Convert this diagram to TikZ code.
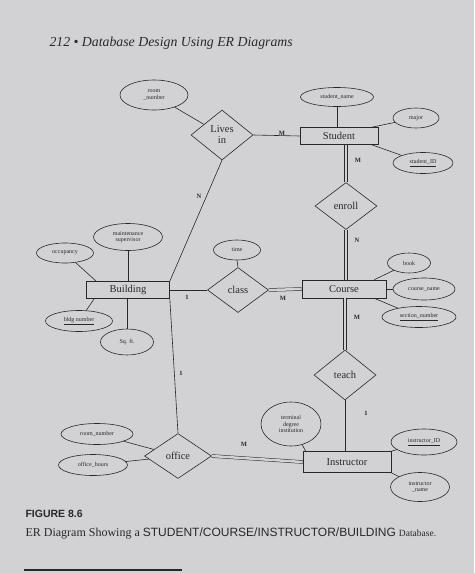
\documentclass[tikz,border=0pt]{standalone}
\usepackage{fontspec}
\setmainfont{Liberation Serif}
\setsansfont{Liberation Sans}
\usetikzlibrary{shapes.geometric, positioning}
\definecolor{pagebg}{RGB}{210,210,213}
\definecolor{ink}{RGB}{40,40,42}

\begin{document}
\begin{tikzpicture}[
        x=1pt, y=-1pt,
        every node/.style={font=\fontsize{10.5}{11}\selectfont, text=ink}, % texto de entidades y relaciones
        entity/.style={draw=ink, line width=0.6pt, rectangle, inner sep=1pt},
        attr/.style={draw=ink, line width=0.6pt, ellipse, inner sep=0pt, align=center, font=\fontsize{6}{6.5}\selectfont},
        rel/.style={draw=ink, line width=0.6pt, diamond, inner sep=0pt, align=center},
        card/.style={font=\bfseries\fontsize{6.5}{7}\selectfont},
        link/.style={draw=ink, line width=0.6pt},
        total/.style={draw=ink, line width=0.5pt, double=pagebg, double distance=2.5pt}
    ]
        % --- Fondo de la pagina ---
        \fill[pagebg] (0,0) rectangle (474,573);
        \useasboundingbox (0,0) rectangle (474,573);

        % --- Encabezado ---
        \node[anchor=west, font=\itshape\fontsize{13.8}{16}\selectfont] (header) at (46,43) {212 \textbullet\ Database Design Using ER Diagrams};

        % --- Entidades ---
        \node[entity, minimum width=78pt, minimum height=17pt] (Student) at (339,136) {Student};
        \node[entity, minimum width=83pt, minimum height=17pt] (Building) at (128,290) {Building};
        \node[entity, minimum width=84pt, minimum height=18pt] (Course) at (344,289) {Course};
        \node[entity, minimum width=88pt, minimum height=21pt] (Instructor) at (347,462) {Instructor};

        % --- Relaciones ---
        \node[rel, minimum width=62pt, minimum height=50pt] (LivesIn) at (222,135) {Lives\\in};
        \node[rel, minimum width=62pt, minimum height=47pt] (enroll) at (346,206) {enroll};
        \node[rel, minimum width=61pt, minimum height=45pt] (class) at (238,290) {class};
        \node[rel, minimum width=62pt, minimum height=50pt] (teach) at (345,375) {teach};
        \node[rel, minimum width=67pt, minimum height=45pt] (office) at (178,456) {office};

        % --- Atributos ---
        \node[attr, minimum width=68pt, minimum height=30pt] (roomA) at (154,95) {room\\\_number};
        \node[attr, minimum width=73pt, minimum height=19pt] (studentName) at (337,97) {student\_name};
        \node[attr, minimum width=46pt, minimum height=20pt] (major) at (416,118) {major};
        \node[attr, minimum width=60pt, minimum height=21pt] (studentID) at (423,163) {\underline{student\_ID}};
        \node[attr, minimum width=69pt, minimum height=27pt] (maint) at (128,237) {maintenance\\supervisor};
        \node[attr, minimum width=57pt, minimum height=20pt] (occupancy) at (65,253) {occupancy};
        \node[attr, minimum width=67pt, minimum height=21pt] (bldgNumber) at (79,321) {\underline{bldg number}};
        \node[attr, minimum width=53pt, minimum height=26pt] (sqft) at (127,342) {Sq. ft.};
        \node[attr, minimum width=47pt, minimum height=20pt] (time) at (237,250) {time};
        \node[attr, minimum width=43pt, minimum height=20pt] (book) at (409,263) {book};
        \node[attr, minimum width=62pt, minimum height=22pt] (courseName) at (424,289) {course\_name};
        \node[attr, minimum width=74pt, minimum height=21pt] (sectionNumber) at (419,317) {\underline{section\_number}};
        \node[attr, minimum width=60pt, minimum height=44pt] (terminal) at (291,424) {terminal\\degree\\institution};
        \node[attr, minimum width=66pt, minimum height=26pt] (instrID) at (424,442) {\underline{instructor\_ID}};
        \node[attr, minimum width=59pt, minimum height=29pt] (instrName) at (420,487) {instructor\\\_name};
        \node[attr, minimum width=72pt, minimum height=21pt] (roomB) at (97,434) {room\_number};
        \node[attr, minimum width=69pt, minimum height=21pt] (officeHours) at (93,465) {office\_hours};

        % --- Lineas de atributos ---
        \draw[link] (roomA) -- (LivesIn);
        \draw[link] (studentName.south) -- (studentName.south |- Student.north);
        \draw[link] (major) -- (Student.15);
        \draw[link] (studentID) -- (Student.-15);
        \draw[link] (maint.south) -- (maint.south |- Building.north);
        \draw[link] (occupancy) -- ([xshift=10pt]Building.north west);
        \draw[link] (bldgNumber) -- ([xshift=8pt]Building.south west);
        \draw[link] (sqft.north) -- (sqft.north |- Building.south);
        \draw[link] (time.south) -- (class.north);
        \draw[link] (book) -- ([xshift=-12pt]Course.north east);
        \draw[link] (courseName) -- (Course.east);
        \draw[link] (sectionNumber) -- ([xshift=-12pt]Course.south east);
        \draw[link] (terminal) -- ([xshift=3pt]Instructor.north west);
        \draw[link] (instrID) -- (Instructor.north east);
        \draw[link] (instrName) -- (Instructor.south east);
        \draw[link] (roomB) -- (office);
        \draw[link] (officeHours) -- (office);

        % --- Lineas de relaciones ---
        \draw[link] (LivesIn.east) -- (Student.west);
        \draw[link] (LivesIn.south) -- (Building.north east);
        \draw[total] (enroll.north) -- (enroll.north |- Student.south);
        \draw[total] (enroll.south) -- (enroll.south |- Course.north);
        \draw[link] (Building.east) -- (class.west);
        \draw[total] (class.east) -- (Course.west);
        \draw[total] (teach.north |- Course.south) -- (teach.north);
        \draw[link] (teach.south) -- (teach.south |- Instructor.north);
        \draw[link] (Building.south east) -- (office.north);
        \draw[total] (office.east) -- (Instructor.west);

        % --- Cardinalidades ---
        \node[card] (cLivesStudent) at (282,133) {M};
        \node[card] (cLivesBuilding) at (199,196) {N};
        \node[card] (cEnrollStudent) at (358,160) {M};
        \node[card] (cEnrollCourse) at (357,240) {N};
        \node[card] (cClassBuilding) at (187,297) {1};
        \node[card] (cClassCourse) at (283,298) {M};
        \node[card] (cTeachCourse) at (357,317) {M};
        \node[card] (cTeachInstr) at (366,413) {1};
        \node[card] (cOfficeBuilding) at (181,373) {1};
        \node[card] (cOfficeInstr) at (244,444) {M};

        % --- Pie de figura ---
        \node[anchor=west, font=\sffamily\bfseries\fontsize{10.5}{12}\selectfont] (figLabel) at (22,514) {FIGURE 8.6};
        \node[anchor=west, font=\fontsize{12}{14}\selectfont] (figCaption) at (22,533) {ER Diagram Showing a {\sffamily STUDENT/COURSE/INSTRUCTOR/BUILDING} {\fontsize{9.5}{12}\selectfont Database.}};
        \draw[ink, line width=1.5pt] (24,570) -- (182,570);
    \end{tikzpicture}
\end{document}
